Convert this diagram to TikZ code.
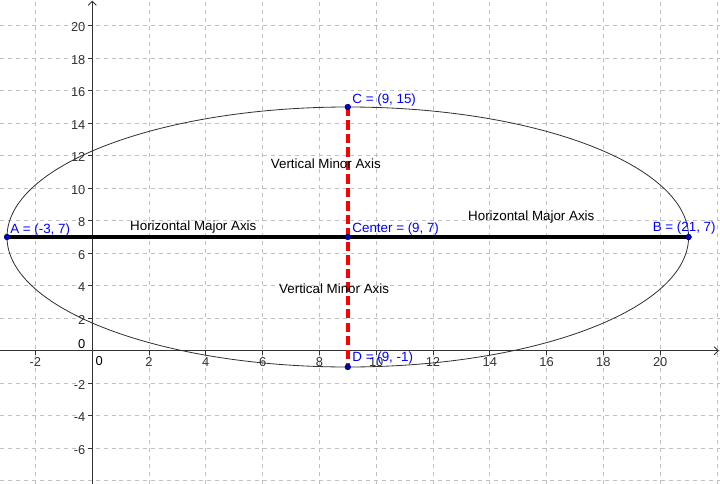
\documentclass[tikz,border=0pt]{standalone}
\usepackage{xcolor}
\usepackage{fontspec}
\setmainfont{Liberation Sans}
\usetikzlibrary{arrows.meta}

\definecolor{gridgray}{RGB}{192,192,192}
\definecolor{ptblue}{RGB}{0,0,255}
\definecolor{ptdark}{RGB}{0,0,190}
\definecolor{minorred}{RGB}{255,0,0}

\begin{document}
\begin{tikzpicture}[x=0.852cm, y=0.4875cm,
    font=\fontsize{11.4}{13}\selectfont,
    every node/.style={inner sep=0pt},
    gridline/.style={gridgray, line width=0.7pt, dash pattern=on 3.4pt off 3.4pt},
    axisline/.style={black!80, line width=0.8pt, -{Straight Barb[length=3.5pt,width=7pt]}},
    ticklabel/.style={font=\fontsize{11}{12}\selectfont},
    ptlabel/.style={ptblue, anchor=base west},
    axistext/.style={anchor=base west},
    ]
    \useasboundingbox (-3.2465,-8.2) rectangle (22.106,21.585);
    \foreach \x in {-2,0,...,22} \draw[gridline] (\x,-8.2) -- (\x,21.585);
    \foreach \y in {-8,-6,...,20} \draw[gridline] (-3.2465,\y) -- (22.106,\y);
    \draw[axisline] (-3.2465,0) -- (22.07,0);
    \draw[axisline] (0,-8.2) -- (0,21.55);
    \foreach \x in {-2,2,4,...,20}
        \draw[black!80, line width=0.8pt] (\x,0) -- ++(0,-3.4pt)
            node[ticklabel, anchor=north, yshift=-1.7pt] (xl\x) {\x};
    \foreach \y in {-6,-4,...,-2,2,4,...,20}
        \draw[black!80, line width=0.8pt] (0,\y) -- ++(-3.4pt,0)
            node[ticklabel, anchor=east, xshift=-2pt, yshift=-1.3pt] (yl\y) {\y};
    \node[ticklabel] (xl0) at ([shift={(6pt,-8.9pt)}]0,0) {0};
    \node[ticklabel] (yl0) at ([shift={(-9pt,5.5pt)}]0,0) {0};

    \draw[black!80, line width=0.7pt] (9,7) ellipse [x radius=12, y radius=8];

    \coordinate (A) at (-3,7);
    \coordinate (B) at (21,7);
    \coordinate (C) at (9,15);
    \coordinate (D) at (9,-1);
    \coordinate (M) at (9,7);
    \draw[black, line width=3pt] (A) -- (B);
    \draw[minorred, line width=3pt, dash pattern=on 8pt off 3.5pt] (C) -- (D);
    \foreach \p in {A,B,C,D,M}
        \filldraw[fill=ptdark, draw=ptdark!60!black, line width=0.5pt] (\p) circle [radius=2.4pt];

    \node[ptlabel] (Alabel) at ([shift={(2.6pt,3.2pt)}]A) {A = (-3, 7)};
    \node[ptlabel] (Blabel) at ([shift={(-30.7pt,4.8pt)}]B) {B = (21, 7)};
    \node[ptlabel] (Clabel) at ([shift={(3.8pt,2.8pt)}]C) {C = (9, 15)};
    \node[ptlabel] (Dlabel) at ([shift={(3.8pt,4.5pt)}]D) {D = (9, -1)};
    \node[ptlabel] (Mlabel) at ([shift={(3.8pt,3.7pt)}]M) {Center = (9, 7)};

    \node[axistext] (majorleft) at (1.331,7.388) {Horizontal Major Axis};
    \node[axistext] (majorright) at (13.232,8.003) {Horizontal Major Axis};
    \node[axistext] (minortop) at (6.285,11.228) {Vertical Minor Axis};
    \node[axistext] (minorbottom) at (6.577,3.511) {Vertical Minor Axis};
\end{tikzpicture}
\end{document}
